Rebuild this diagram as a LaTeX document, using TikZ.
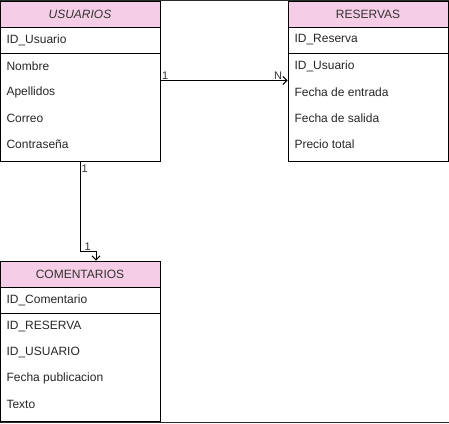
\documentclass[tikz,border=0pt]{standalone}
\usepackage{fontspec}
\setmainfont{Liberation Sans}
\usetikzlibrary{arrows.meta}
\definecolor{headpink}{HTML}{F5CDE6}
\definecolor{edgegray}{HTML}{2B2B2B}

\begin{document}
\begin{tikzpicture}[
  x = 1pt, y = -1pt,
  line width = 1pt,
  head/.style  = {rectangle, draw, fill = headpink, minimum width = 160pt, minimum height = 26pt, inner sep = 0pt, font = \fontsize{12}{14}\selectfont, text = black!80},
  keyrow/.style = {rectangle, draw, minimum width = 160pt, minimum height = 26pt, inner sep = 0pt},
  body/.style  = {rectangle, draw, minimum width = 160pt, minimum height = 108pt, inner sep = 0pt},
  field/.style = {anchor = west, inner sep = 0pt, font = \fontsize{12}{14}\selectfont, text = black!85},
  card/.style  = {inner sep = 1pt, font = \fontsize{11}{13}\selectfont, text = black!80},
  link/.style  = {-{Straight Barb[length = 4pt, width = 8pt, line width = 1pt]}}
]
  \useasboundingbox (0,0) rectangle (449,423);
  \draw[edgegray] (0,0.5) -- (449,0.5);
  \draw[edgegray] (0,422.5) -- (449,422.5);

  \node[head, font = \fontsize{12}{14}\selectfont\itshape] (uhead) at (80, 14)  {USUARIOS};
  \node[keyrow]                                             (ukey)  at (80, 40)  {};
  \node[body]                                               (ubody) at (80, 107) {};
  \node[field] (uid)     at (6, 40)  {ID\_Usuario};
  \node[field] (unom)    at (6, 66)  {Nombre};
  \node[field] (uape)    at (6, 92)  {Apellidos};
  \node[field] (ucor)    at (6, 118) {Correo};
  \node[field] (upass)   at (6, 144) {Contraseña};

  \node[head]   (rhead) at (368, 14)  {RESERVAS};
  \node[keyrow] (rkey)  at (368, 40)  {};
  \node[body]   (rbody) at (368, 107) {};
  \node[field] (rid)     at (294, 40)  {ID\_Reserva};
  \node[field] (ruser)   at (294, 66)  {ID\_Usuario};
  \node[field] (rin)     at (294, 92)  {Fecha de entrada};
  \node[field] (rout)    at (294, 118) {Fecha de salida};
  \node[field] (rprice)  at (294, 144) {Precio total};

  \node[head]   (chead) at (80, 274) {COMENTARIOS};
  \node[keyrow] (ckey)  at (80, 300) {};
  \node[body]   (cbody) at (80, 367) {};
  \node[field] (cid)     at (6, 300) {ID\_Comentario};
  \node[field] (cres)    at (6, 326) {ID\_RESERVA};
  \node[field] (cuser)   at (6, 352) {ID\_USUARIO};
  \node[field] (cdate)   at (6, 378) {Fecha publicacion};
  \node[field] (ctext)   at (6, 404) {Texto};

  % usuarios -> reservas
  \draw[link] ([yshift = -28pt]ubody.north east) -- ([yshift = -28pt]rbody.north west);
  \node[card, anchor = south west] at ([yshift = -28pt]ubody.north east) {1};
  \node[card, anchor = south east] at ([xshift = -4pt, yshift = -28pt]rbody.north west) {N};

  % usuarios -> comentarios
  \coordinate (bend) at ([yshift = -90pt]ubody.south);
  \draw[link] (ubody.south) -- (bend) -| ([xshift = 16pt]chead.north);
  \node[card, anchor = north west] at ([yshift = -2pt]ubody.south) {1};
  \node[card, anchor = south west] at ([xshift = 3pt]bend) {1};
\end{tikzpicture}
\end{document}
